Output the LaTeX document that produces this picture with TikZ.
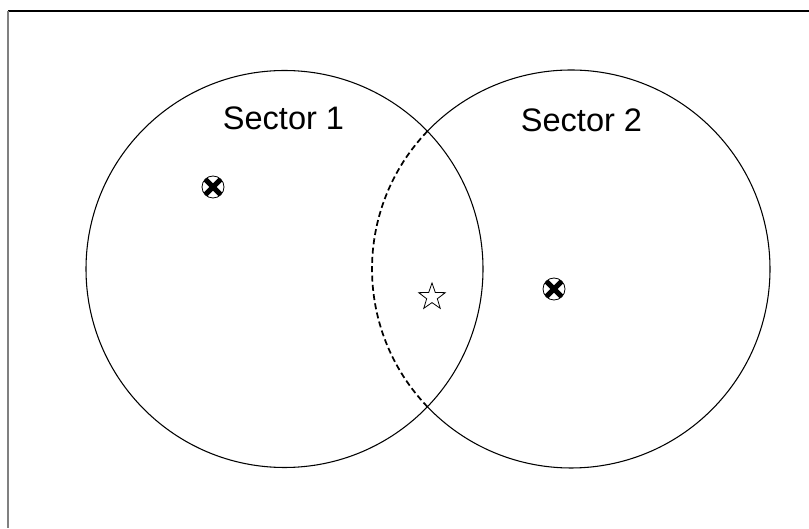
\documentclass[tikz,border=0pt]{standalone}
\usepackage{fontspec}
\setmainfont{Liberation Sans}
\usepackage{tikz}
\usetikzlibrary{shapes.geometric}

\tikzset{
  xmark/.style={circle, draw, fill=white, inner sep=0pt, minimum size=16.5pt,
    line width=0.6pt,
    path picture={\draw[line width=3.8pt]
      (path picture bounding box.north west) -- (path picture bounding box.south east)
      (path picture bounding box.north east) -- (path picture bounding box.south west);}},
  starmark/.style={star, star points=5, star point ratio=2.5, draw, inner sep=0pt,
    minimum size=21pt, line width=0.6pt},
  label/.style={anchor=base, font=\fontsize{24.4}{29}\selectfont}
}

\begin{document}
\begin{tikzpicture}[x=0.75pt, y=0.75pt]
          \useasboundingbox (0,0) rectangle (809,528);
          \draw [line width=1.5pt] (8,517) -- (809,517);
          \draw [line width=1.5pt, gray] (8,517) -- (8,0);
          \coordinate (c1) at (284.5,259);
          \coordinate (c2) at (571,259);
          \draw [line width=0.8pt] (c1) circle [radius=198.5];
          \draw [line width=0.8pt] (c2) ++(-136.2:199) arc
          [radius=199, start angle=-136.2, end angle=136.2];
          \draw [line width=1.3pt, dash pattern=on 4.5pt off 2.5pt] (c2) ++(136.2:199) arc
          [radius=199, start angle=136.2, end angle=223.8];
          \node [label] (s1) at (283.5,398) {Sector 1};
          \node [label] (s2) at (581.5,396) {Sector 2};
          \node [xmark] (x1) at (213,341) {};
          \node [xmark] (x2) at (554,239) {};
          \node [starmark] (st) at (432,231) {};
        \end{tikzpicture}
\end{document}
